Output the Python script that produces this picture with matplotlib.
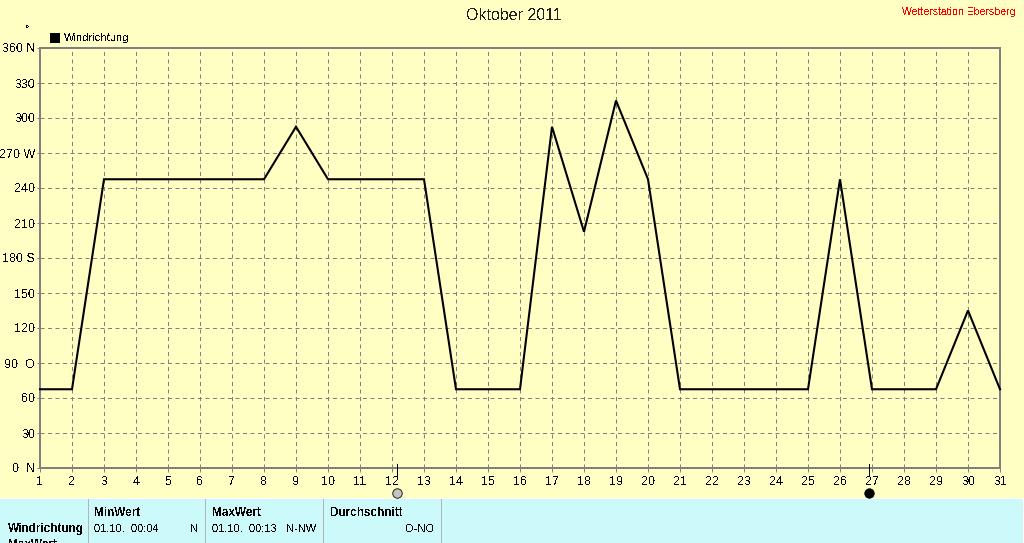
import matplotlib
matplotlib.use('Agg')
import matplotlib.pyplot as plt
from matplotlib.patches import Rectangle

plt.rcParams['font.family'] = ['Liberation Sans', 'DejaVu Sans']
plt.rcParams['text.antialiased'] = False

days = list(range(1, 32))
wind_dir = [67.5, 67.5, 247.5, 247.5, 247.5, 247.5, 247.5, 247.5, 292.5, 247.5,
            247.5, 247.5, 247.5, 67.5, 67.5, 67.5, 292.5, 202.5, 315, 247.5,
            67.5, 67.5, 67.5, 67.5, 67.5, 247.5, 67.5, 67.5, 67.5, 135, 67.5]
y_ticks = list(range(0, 361, 30))
y_labels = ['0  N', '30', '60', '90  O', '120', '150', '180 S', '210', '240', '270 W', '300', '330', '360 N']
moon_days = [12.16, 26.92]
moon_colors = ['#c4c4c4', '#000000']

W, H = 1024, 543
bg = '#ffffc4'
grey = '#808080'

fig = plt.figure(figsize=(W / 100, H / 100), dpi=100, facecolor=bg)
ax = fig.add_axes([40 / W, 1 - 468 / H, 960 / W, 420 / H], facecolor=bg)
ax.set_zorder(5)

ax.plot(days, wind_dir, color='black', lw=1.5, solid_joinstyle='miter', clip_on=False, zorder=3)

ax.set_xlim(1, 31)
ax.set_ylim(0, 360)
ax.set_xticks(days)
ax.set_yticks(y_ticks)
ax.set_yticklabels(y_labels, ha='right')
ax.grid(True, color=grey, ls=(0, (4, 3.5)), lw=0.72)
ax.set_axisbelow(True)
for s in ax.spines.values():
    s.set_color(grey)
    s.set_linewidth(1.44)
ax.tick_params(axis='x', length=3, width=0.72, color=grey, labelsize=9, pad=3, labelcolor='black')
ax.tick_params(axis='y', length=2.5, width=0.72, color=grey, labelsize=9, pad=1, labelcolor='black')

# moon phases under the axis
for d, c in zip(moon_days, moon_colors):
    ax.plot([d, d], [-7, 3.4], color='black', lw=0.72, clip_on=False, zorder=4)
    ax.plot(d, -21.4, 'o', ms=6.8, mfc=c, mec='black', mew=0.6, clip_on=False, zorder=4)

fig.text(514 / W, 1 - 15 / H, 'Oktober 2011', fontsize=11.5, ha='center', va='center', color='#202020')
fig.text(1016 / W, 1 - 12 / H, 'Wetterstation Ebersberg', fontsize=7.6, ha='right', va='center', color='red')
fig.text(28 / W, 1 - 29 / H, '°', fontsize=8, ha='center', va='center')
fig.patches.append(Rectangle((50 / W, 1 - 43 / H), 10 / W, 10 / H, transform=fig.transFigure, fc='black', ec='none'))
fig.text(64 / W, 1 - 38 / H, 'Windrichtung', fontsize=8, ha='left', va='center')

# table strip at the bottom
fig.patches.append(Rectangle((0, 0), 1023 / W, 44 / H, transform=fig.transFigure, fc='#ccfafa', ec='none'))
fig.patches.append(Rectangle((0, 44 / H), 1, 1 / H, transform=fig.transFigure, fc='white', ec='none'))
fig.patches.append(Rectangle((1023 / W, 0), 1 / W, 45 / H, transform=fig.transFigure, fc='white', ec='none'))
for x in [88, 205, 323, 441]:
    fig.patches.append(Rectangle((x / W, 0), 1 / W, 44 / H, transform=fig.transFigure, fc='#b4b4b4', ec='none'))

def cell(x, y, s, bold=False, ha='left'):
    fig.text(x / W, 1 - y / H, s, fontsize=8.5 if bold else 8, ha=ha, va='center',
             fontweight='bold' if bold else 'normal')

cell(8, 529, 'Windrichtung', True)
cell(8, 545, 'MaxWert', True)
cell(94, 513, 'MinWert', True)
cell(94, 529, '01.10.  00:04')
cell(198, 529, 'N', ha='right')
cell(212, 513, 'MaxWert', True)
cell(212, 529, '01.10.  00:13')
cell(316, 529, 'N-NW', ha='right')
cell(330, 513, 'Durchschnitt', True)
cell(434, 529, 'O-NO', ha='right')

fig.savefig('out.png', dpi=100, facecolor=bg)
